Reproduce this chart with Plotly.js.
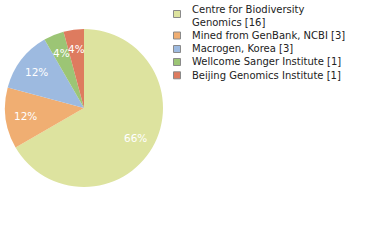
<!DOCTYPE html>
<html><head><meta charset="utf-8">
<script src="https://cdn.plot.ly/plotly-3.0.1.min.js"></script>
<style>html,body{margin:0;padding:0;background:#fff}#chart{width:380px;height:240px}</style>
</head><body><div id="chart"></div>
<script>
const labels = ["Centre for Biodiversity<br>Genomics [16]", "Mined from GenBank, NCBI [3]", "Macrogen, Korea [3]", "Wellcome Sanger Institute [1]", "Beijing Genomics Institute [1]"];
const counts = [16, 3, 3, 1, 1];
const pctLabels = ["66%", "12%", "12%", "4%", "4%"];
const colors = ["#dde39f", "#f0ae72", "#9dbae0", "#9cc575", "#de7b5f"];

const W = 380, H = 240;
const cx = 84, cy = 108, R = 79;
const dom = {x: [(cx - R) / W, (cx + R) / W], y: [1 - (cy + R) / H, 1 - (cy - R) / H]};

const traces = [{
  type: "pie", labels: labels, values: counts, sort: false,
  direction: "clockwise", rotation: 0, hoverinfo: "none", domain: dom, showlegend: false,
  marker: {colors: colors, line: {width: 0}},
  textinfo: "none"
}];

// percentage labels placed along each slice's bisector at 3/4 of the radius
const total = counts.reduce((a, b) => a + b, 0);
let cum = 0;
const annotations = [];
counts.forEach((v, i) => {
  const mid = (cum + v / 2) / total * 2 * Math.PI;
  cum += v;
  const px = cx + 0.75 * R * Math.sin(mid);
  const py = cy - 0.75 * R * Math.cos(mid);
  annotations.push({
    text: pctLabels[i], xref: "paper", yref: "paper", x: px / W, y: 1 - py / H,
    xanchor: "center", yanchor: "middle", showarrow: false,
    font: {family: "DejaVu Sans", size: 10.5, color: "#ffffff"}
  });
});

// legend built from the label list
const textY = [15.8, 35.5, 49, 62, 75.3];
const markerY = [14, 35.5, 49, 62, 75.3];
labels.forEach((lab, i) => {
  annotations.push({
    text: lab, xref: "paper", yref: "paper", x: 190 / W, y: 1 - textY[i] / H,
    xanchor: "left", yanchor: "middle", showarrow: false, align: "left",
    font: {family: "DejaVu Sans", size: 10, color: "#222222"}
  });
});
const shapes = colors.map((c, i) => ({
  type: "rect", xref: "paper", yref: "paper",
  x0: 173.5 / W, x1: 180.5 / W,
  y0: 1 - (markerY[i] + 3.5) / H, y1: 1 - (markerY[i] - 3.5) / H,
  fillcolor: c, line: {color: "#8a8a8a", width: 1}
}));

Plotly.newPlot("chart", traces, {
  width: W, height: H,
  margin: {l: 0, r: 0, t: 0, b: 0},
  paper_bgcolor: "#ffffff",
  showlegend: false,
  annotations: annotations, shapes: shapes,
  font: {family: "DejaVu Sans"}
}, {staticPlot: true});
</script></body></html>
